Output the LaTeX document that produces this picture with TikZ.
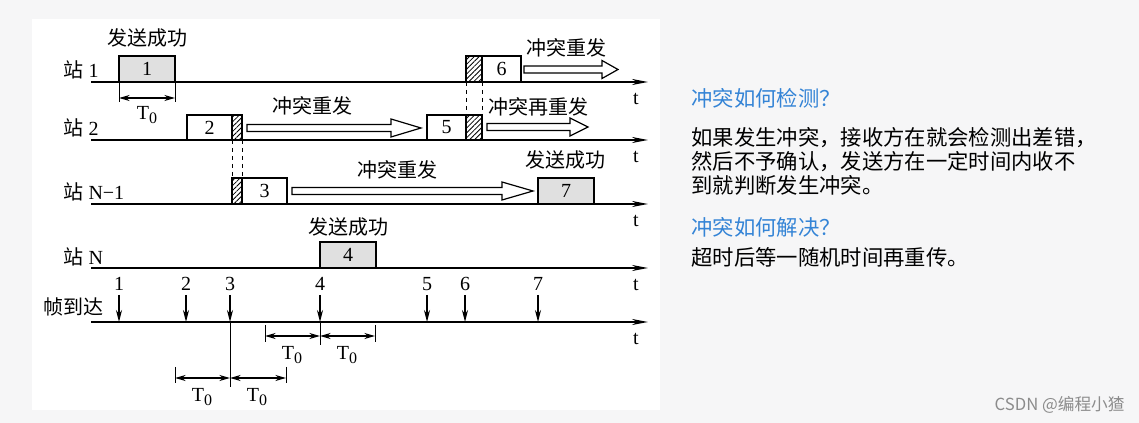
\documentclass[tikz,border=0pt]{standalone}
\usepackage{fontspec}
\setmainfont{Liberation Serif}
\newfontfamily\cjk{Noto Sans CJK SC}
\usetikzlibrary{arrows.meta,patterns.meta,positioning}
\tikzset{every picture/.style={line width=0.75pt}}
\definecolor{pagegray}{RGB}{246,246,247}
\definecolor{askblue}{RGB}{52,132,214}
\definecolor{sentgray}{RGB}{224,224,224}
\tikzset{
  axis/.style={line width=1.5pt,-{Stealth[length=12pt,width=4.5pt]}},
  frame/.style={draw,fill=white,line width=0.9pt},
  okframe/.style={draw,fill=sentgray,line width=0.9pt},
  hatch/.style={draw,line width=0.9pt,pattern={Lines[angle=45,distance=2.6pt,line width=0.6pt]}},
  arrive/.style={line width=1pt,-{Stealth[length=9pt,width=4.5pt]}},
  dim/.style={line width=0.9pt,{Stealth[length=8pt,width=4.5pt]}-{Stealth[length=8pt,width=4.5pt]}},
  hollow/.style={draw,fill=white,line width=0.9pt},
}
% hollow arrow: start x, tip x, centre y, head length
\newcommand{\hollowarr}[4]{\draw[hollow] (#1,#3-3.5) -- (#2-#4,#3-3.5) -- (#2-#4,#3-9) -- (#2,#3) -- (#2-#4,#3+9) -- (#2-#4,#3+3.5) -- (#1,#3+3.5) -- cycle;}
\newcommand{\Tzero}{T\raisebox{-0.35ex}{\fontsize{12}{12}\selectfont 0}}

\begin{document}
\begin{tikzpicture}[x=0.75pt,y=0.75pt,yscale=-1,xscale=1,font=\fontsize{15}{18}\selectfont,inner sep=0.75pt]
    \fill[pagegray] (0,0) rectangle (1139,423);
    \fill[white] (32,19) rectangle (660,410);
    % time axes
    \foreach \y in {82,140,204,268,322} {
      \draw[axis] (91,\y) -- (648,\y);
      \node at (636,\y+17) {t};
    }
    \node[anchor=west] (st1) at (62,70) {{\cjk 站} 1};
    \node[anchor=west] (st2) at (62,128) {{\cjk 站} 2};
    \node[anchor=west] (stn1) at (62,192) {{\cjk 站} N−1};
    \node[anchor=west] (stn) at (62,257) {{\cjk 站} N};
    \node[anchor=west] (arr) at (42,307) {\cjk 帧到达};
    % station 1
    \draw[okframe] (119,56) rectangle (175,82);
    \node (f1) at (147,69) {1};
    \node (ok1) at (147,38) {\cjk 发送成功};
    \draw (119,82) -- (119,102);
    \draw (175,82) -- (175,102);
    \draw[dim] (119,98) -- (175,98);
    \node (t1) at (147,115) {\Tzero};
    \draw[hatch] (466,56) rectangle (482,82);
    \draw[frame] (482,56) rectangle (521,82);
    \node (f6) at (501.5,69) {6};
    \hollowarr{524}{618}{69.5}{16}
    \node (re6) at (566,48) {\cjk 冲突重发};
    % station 2
    \draw[frame] (187,115) rectangle (232,140);
    \draw[hatch] (232,115) rectangle (242,140);
    \node (f2) at (209.5,127.5) {2};
    \hollowarr{247}{421}{128}{30}
    \node (re2) at (312,106) {\cjk 冲突重发};
    \draw[frame] (427,115) rectangle (466,140);
    \draw[hatch] (466,115) rectangle (482,140);
    \node (f5) at (446.5,127.5) {5};
    \hollowarr{487}{588}{127}{18}
    \node (re5) at (538,107) {\cjk 冲突再重发};
    % collisions
    \draw[dashed] (232,140) -- (232,178);
    \draw[dashed] (242,140) -- (242,178);
    \draw[dashed] (466,82) -- (466,115);
    \draw[dashed] (482,82) -- (482,115);
    % station N-1
    \draw[hatch] (232,178) rectangle (242,204);
    \draw[frame] (242,178) rectangle (287,204);
    \node (f3) at (264.5,191) {3};
    \hollowarr{292}{533}{191}{31}
    \node (re3) at (397,170) {\cjk 冲突重发};
    \draw[okframe] (538,178) rectangle (594,204);
    \node (f7) at (566,191) {7};
    \node (ok7) at (565,160) {\cjk 发送成功};
    % station N
    \draw[okframe] (320,242) rectangle (376,268);
    \node (f4) at (348,255) {4};
    \node (ok4) at (348,227) {\cjk 发送成功};
    % frame arrivals
    \foreach \n/\x in {1/119,2/186,3/230,4/320,5/427,6/465,7/538} {
      \node (a\n) at (\x,284) {\n};
      \draw[arrive] (\x,295) -- (\x,322);
    }
    % T0 spans
    \draw (265,325) -- (265,342);
    \draw (320,322) -- (320,345);
    \draw (375,325) -- (375,342);
    \draw[dim] (265,336) -- (320,336);
    \draw[dim] (320,336) -- (375,336);
    \node (t2) at (292,355) {\Tzero};
    \node (t3) at (347,355) {\Tzero};
    \draw (230,322) -- (230,387);
    \draw (175,367) -- (175,383);
    \draw (286,367) -- (286,383);
    \draw[dim] (175,378) -- (230,378);
    \draw[dim] (230,378) -- (286,378);
    \node (t4) at (202,397) {\Tzero};
    \node (t5) at (257,397) {\Tzero};
    % notes
    \node[anchor=west,text=askblue,font=\cjk\fontsize{16}{18}\selectfont] (q1) at (690,98) {冲突如何检测？};
    \node[anchor=west,align=left,font=\cjk\fontsize{16}{18}\selectfont] (ans1) at (690,161) {如果发生冲突，接收方在就会检测出差错，\\然后不予确认，发送方在一定时间内收不\\到就判断发生冲突。};
    \node[anchor=west,text=askblue,font=\cjk\fontsize{16}{18}\selectfont] (q2) at (690,227) {冲突如何解决？};
    \node[anchor=west,font=\cjk\fontsize{16}{18}\selectfont] (ans2) at (690,257) {超时后等一随机时间再重传。};
    \node[anchor=east,text=black!45,font=\cjk\fontsize{12.5}{14}\selectfont] (mark) at (1126,405) {CSDN @编程小猹};
\end{tikzpicture}
\end{document}
